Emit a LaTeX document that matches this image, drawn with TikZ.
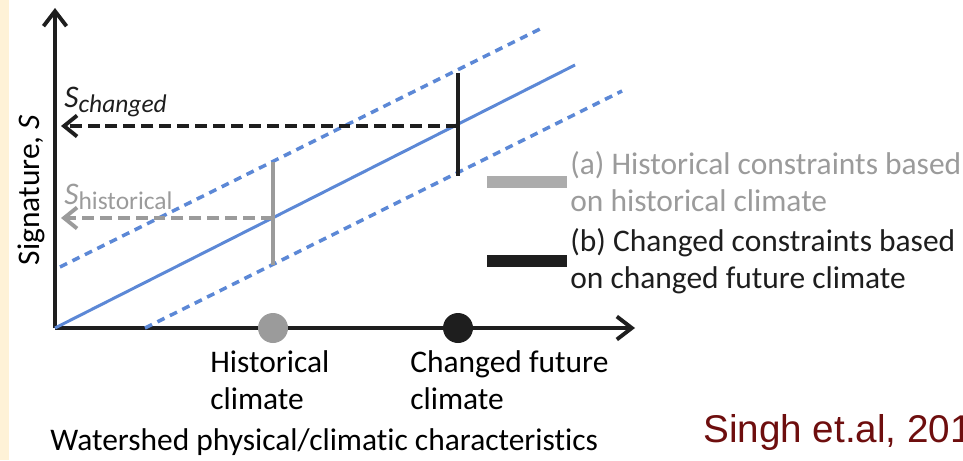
\documentclass[tikz,border=0pt]{standalone}
\usepackage{fontspec}
\setmainfont{Carlito}[Ligatures=NoCommon]
\newfontfamily\citefont{Liberation Sans}
\usepackage{xcolor}
\usetikzlibrary{arrows.meta}
\definecolor{trendblue}{RGB}{92,136,214}
\definecolor{histgray}{RGB}{155,155,155}
\definecolor{bargray}{RGB}{172,172,172}
\definecolor{futblack}{RGB}{30,30,30}
\definecolor{citered}{RGB}{110,14,14}
\definecolor{sidebar}{RGB}{254,242,215}
\tikzset{
  ax/.style={line width=2.2pt,futblack,-{Straight Barb[length=3mm,width=4.6mm]}},
  trd/.style={line width=1.7pt,trendblue},
  bnd/.style={line width=2pt,trendblue,dash pattern=on 4.5pt off 3.4pt},
  proj/.style={line width=2.2pt,dash pattern=on 6.8pt off 3.4pt,-{Straight Barb[length=2.6mm,width=4.2mm]}},
  rng/.style={line width=2pt},
  mark dot/.style={circle,inner sep=0pt,minimum size=6mm},
  lbl/.style={inner sep=0pt,align=left,anchor=west}
}
\newcommand{\legbar}[4]{\fill[#3] (9.74,#2-0.115) rectangle (11.34,#2+0.115); \node[lbl,text=#4] at (11.40,#2) {#1};}
\newcommand{\subsig}[1]{\raisebox{-0.35ex}{\fontsize{14.5}{14.5}\selectfont#1}}

\begin{document}
\begin{tikzpicture}[font=\fontsize{17.9}{21}\selectfont]
\useasboundingbox (0,0) rectangle (19.26,9.2);
\fill[sidebar] (0,0) rectangle (0.18,9.2);

% axes
\coordinate (O) at (1.10,2.64);
\coordinate (ytop) at (1.10,9.04);
\coordinate (xend) at (12.70,2.64);
\draw[ax] (O) -- (ytop);
\draw[ax] (O) -- (xend);
\node[rotate=90] (ylab) at (0.62,5.40) {Signature, \textit{S}};

% trend line with its band
\coordinate (t1) at (11.50,7.90);
\draw[trd] (O) -- (t1);
\coordinate (u0) at (1.20,3.86); \coordinate (u1) at (10.84,8.64);
\coordinate (l0) at (2.90,2.64); \coordinate (l1) at (12.44,7.38);
\draw[bnd] (u0) -- (u1);
\draw[bnd] (l0) -- (l1);

% historical constraint
\coordinate (hTop) at (5.46,5.96); \coordinate (hBot) at (5.46,3.90);
\coordinate (hMid) at (5.46,4.84); \coordinate (hAx) at (1.22,4.84);
\draw[rng,histgray] (hTop) -- (hBot);
\draw[proj,histgray] (hMid) -- (hAx);
\node[inner sep=0pt,anchor=base west,text=histgray] (shist) at (1.28,5.12) {\textit{S}\subsig{historical}};

% changed constraint
\coordinate (cTop) at (9.16,7.74); \coordinate (cBot) at (9.16,5.68);
\coordinate (cMid) at (9.16,6.68); \coordinate (cAx) at (1.22,6.68);
\draw[rng,futblack] (cTop) -- (cBot);
\draw[proj,futblack] (cMid) -- (cAx);
\node[inner sep=0pt,anchor=base west,text=futblack] (schg) at (1.28,7.06) {\textit{S}\subsig{\textit{changed}}};

% climates on the x axis
\node[mark dot,fill=histgray] (hc) at (5.46,2.64) {};
\node[mark dot,fill=futblack] (cc) at (9.16,2.64) {};
\node[lbl] (hclab) at (4.20,1.60) {Historical\\climate};
\node[lbl] (cclab) at (8.20,1.60) {Changed future\\climate};
\node[lbl] (xlab) at (1.00,0.36) {Watershed physical/climatic characteristics};

% legend
\legbar{(a) Historical constraints based\\on historical climate}{5.56}{bargray}{histgray}
\legbar{(b) Changed constraints based\\on changed future climate}{3.98}{futblack}{futblack}

\node[lbl,text=citered,font=\citefont\fontsize{22}{26}\selectfont] (cite) at (14.06,0.56) {Singh et.al, 2011};
\end{tikzpicture}
\end{document}
